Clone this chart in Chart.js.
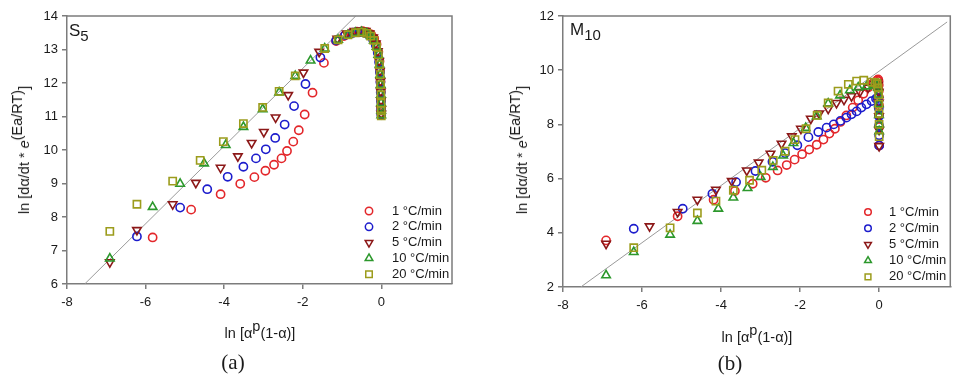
<!DOCTYPE html>
<html>
<head>
<meta charset="utf-8">
<script src="https://cdn.jsdelivr.net/npm/chart.js@4.4.0/dist/chart.umd.min.js"></script>
<style>
  body { margin: 0; background: #fff; font-family: "Liberation Sans", Arial, sans-serif; }
  #wrap { position: relative; width: 957px; height: 384px; overflow: hidden; }
  canvas { position: absolute; top: 0; }
  .lbl { position: absolute; white-space: nowrap; color: #1a1a1a; }
  .ytitle { font-size: 14.5px; transform: translate(-50%, -50%) rotate(-90deg); }
  .xtitle { font-size: 14.5px; transform: translate(-50%, -50%); }
  .sup { position: relative; top: -0.5em; }
  .cap { font-family: "Liberation Serif", "Times New Roman", serif; font-size: 21px; transform: translate(-50%, -50%); }
  .tag { font-size: 17px; }
  .tag sub { font-size: 15px; vertical-align: baseline; position: relative; top: 5px; }
</style>
</head>
<body>
<div id="wrap">
  <canvas id="chartA" width="475" height="384" style="left:0"></canvas>
  <canvas id="chartB" width="477" height="384" style="left:480px"></canvas>

  <div class="lbl ytitle" style="left:24px;top:150px">ln [dα/dt * <i>e</i><span class="sup">(Ea/RT)</span>]</div>
  <div class="lbl xtitle" style="left:260px;top:333px">ln [α<span class="sup">p</span>(1-α)]</div>
  <div class="lbl cap" style="left:233px;top:362px">(a)</div>
  <div class="lbl tag" style="left:69px;top:21px">S<sub>5</sub></div>

  <div class="lbl ytitle" style="left:522px;top:150px">ln [dα/dt * <i>e</i><span class="sup">(Ea/RT)</span>]</div>
  <div class="lbl xtitle" style="left:757px;top:337px">ln [α<span class="sup">p</span>(1-α)]</div>
  <div class="lbl cap" style="left:730px;top:363px">(b)</div>
  <div class="lbl tag" style="left:570px;top:20px">M<sub>10</sub></div>
</div>

<script>
// tick labels
const xTicks = [-8, -6, -4, -2, 0];
const yTicksA = [6, 7, 8, 9, 10, 11, 12, 13, 14];
const yTicksB = [2, 4, 6, 8, 10, 12];

const seriesNames = ['1 °C/min', '2 °C/min', '5 °C/min', '10 °C/min', '20 °C/min'];

// panel (a) S5
const a1x = [-5.82, -4.84, -4.09, -3.59, -3.23, -2.95, -2.73, -2.54, -2.40, -2.24, -2.10, -1.95, -1.75, -1.46, -1.15, -0.95, -0.78, -0.62, -0.48, -0.36, -0.26, -0.18, -0.12, -0.075, -0.045, -0.03, -0.02, -0.012, -0.007, -0.003, 0];
const a1y = [7.39, 8.22, 8.68, 8.99, 9.19, 9.38, 9.56, 9.75, 9.97, 10.25, 10.59, 11.06, 11.71, 12.60, 13.25, 13.40, 13.48, 13.53, 13.55, 13.52, 13.45, 13.33, 13.16, 12.93, 12.65, 12.35, 12.05, 11.75, 11.5, 11.25, 11.1];
const a2x = [-6.22, -5.12, -4.43, -3.91, -3.51, -3.19, -2.94, -2.70, -2.46, -2.22, -1.93, -1.55, -1.15, -0.92, -0.72, -0.55, -0.41, -0.30, -0.21, -0.14, -0.09, -0.055, -0.035, -0.022, -0.014, -0.008, -0.004, -0.001];
const a2y = [7.42, 8.28, 8.83, 9.20, 9.50, 9.75, 10.02, 10.36, 10.76, 11.31, 11.97, 12.76, 13.27, 13.43, 13.5, 13.52, 13.49, 13.42, 13.3, 13.13, 12.9, 12.62, 12.32, 12.02, 11.72, 11.45, 11.2, 11.05];
const a3x = [-6.91, -6.22, -5.31, -4.72, -4.09, -3.65, -3.30, -2.99, -2.69, -2.37, -1.98, -1.58, -1.12, -0.88, -0.68, -0.52, -0.40, -0.30, -0.21, -0.14, -0.09, -0.055, -0.035, -0.022, -0.013, -0.007, -0.003, 0];
const a3y = [6.65, 7.61, 8.38, 9.02, 9.47, 9.81, 10.21, 10.54, 10.97, 11.64, 12.31, 12.93, 13.32, 13.48, 13.55, 13.57, 13.55, 13.48, 13.36, 13.18, 12.95, 12.66, 12.36, 12.05, 11.75, 11.48, 11.22, 11.08];
const a4x = [-6.91, -5.82, -5.12, -4.51, -3.96, -3.51, -3.02, -2.60, -2.19, -1.80, -1.44, -1.10, -0.85, -0.66, -0.5, -0.37, -0.27, -0.19, -0.12, -0.075, -0.045, -0.028, -0.017, -0.01, -0.005, -0.002, 0];
const a4y = [6.76, 8.30, 8.99, 9.60, 10.15, 10.69, 11.22, 11.72, 12.21, 12.67, 13.03, 13.29, 13.43, 13.5, 13.52, 13.48, 13.4, 13.27, 13.08, 12.84, 12.55, 12.25, 11.95, 11.65, 11.4, 11.18, 11.04];
const a5x = [-6.91, -6.22, -5.31, -4.61, -4.02, -3.51, -3.02, -2.60, -2.19, -1.44, -1.10, -0.85, -0.66, -0.5, -0.37, -0.27, -0.19, -0.12, -0.075, -0.045, -0.028, -0.017, -0.01, -0.005, -0.002, 0];
const a5y = [7.57, 8.38, 9.07, 9.69, 10.25, 10.79, 11.27, 11.75, 12.21, 13.03, 13.29, 13.44, 13.5, 13.52, 13.48, 13.4, 13.27, 13.08, 12.84, 12.55, 12.25, 11.95, 11.65, 11.4, 11.18, 11.02];
const lineAx = [-7.55, -0.65];
const lineAy = [6, 14];

// panel (b) M10
const b1x = [-6.91, -5.10, -4.19, -3.65, -3.20, -2.87, -2.57, -2.34, -2.14, -1.95, -1.77, -1.58, -1.41, -1.26, -1.12, -0.98, -0.83, -0.67, -0.53, -0.40, -0.28, -0.15, -0.05, -0.025, -0.015, -0.01, -0.007, -0.005, -0.003, -0.002, -0.001, 0];
const b1y = [3.72, 4.61, 5.22, 5.54, 5.81, 6.03, 6.30, 6.50, 6.70, 6.90, 7.07, 7.25, 7.44, 7.66, 7.84, 8.09, 8.33, 8.62, 8.89, 9.13, 9.36, 9.53, 9.63, 9.66, 9.6, 9.45, 9.25, 9.0, 8.7, 8.35, 7.9, 7.22];
const b2x = [-6.21, -4.97, -4.22, -3.62, -3.13, -2.70, -2.38, -2.07, -1.79, -1.54, -1.33, -1.15, -0.98, -0.83, -0.70, -0.57, -0.45, -0.32, -0.19, -0.08, -0.04, -0.02, -0.01, -0.006, -0.003, -0.001, 0];
const b2y = [4.15, 4.89, 5.44, 5.87, 6.28, 6.62, 6.94, 7.23, 7.53, 7.72, 7.88, 8.00, 8.13, 8.25, 8.37, 8.48, 8.62, 8.74, 8.86, 8.95, 8.97, 8.85, 8.6, 8.3, 7.95, 7.6, 7.22];
const b3x = [-6.91, -5.81, -5.10, -4.60, -4.13, -3.73, -3.35, -3.05, -2.75, -2.47, -2.21, -1.98, -1.73, -1.52, -1.29, -1.08, -0.89, -0.70, -0.49, -0.28, -0.11, -0.05, -0.03, -0.015, -0.008, -0.004, -0.002, 0];
const b3y = [3.60, 4.24, 4.77, 5.22, 5.59, 5.91, 6.30, 6.59, 6.92, 7.29, 7.56, 7.84, 8.21, 8.40, 8.58, 8.79, 8.91, 9.04, 9.20, 9.36, 9.50, 9.55, 9.45, 9.2, 8.8, 8.3, 7.8, 7.2];
const b4x = [-6.91, -6.21, -5.29, -4.60, -4.07, -3.69, -3.33, -3.00, -2.69, -2.43, -2.17, -1.86, -1.58, -1.29, -0.99, -0.74, -0.53, -0.32, -0.15, -0.05, -0.03, -0.015, -0.008, -0.004, -0.002, 0];
const b4y = [2.43, 3.29, 3.93, 4.44, 4.89, 5.30, 5.65, 6.06, 6.43, 6.85, 7.31, 7.87, 8.30, 8.77, 9.07, 9.26, 9.36, 9.40, 9.44, 9.45, 9.35, 9.1, 8.75, 8.35, 8.0, 7.75];
const b5x = [-6.21, -5.29, -4.60, -4.13, -3.69, -3.28, -2.97, -2.68, -2.38, -2.13, -1.85, -1.57, -1.29, -1.04, -0.78, -0.57, -0.39, -0.19, -0.1, -0.05, -0.03, -0.015, -0.008, -0.004, -0.002, 0];
const b5y = [3.45, 4.18, 4.73, 5.17, 5.57, 5.94, 6.31, 6.67, 7.01, 7.44, 7.84, 8.33, 8.79, 9.23, 9.48, 9.60, 9.63, 9.56, 9.55, 9.5, 9.35, 9.1, 8.75, 8.4, 8.0, 7.55];
const lineBx = [-7.55, 1.72];
const lineBy = [2, 11.78];

// marker look per series
const styles = [
  { color: '#e3262a', pointStyle: 'circle', radius: 4.1, rotation: 0 },
  { color: '#1c1ccc', pointStyle: 'circle', radius: 4.1, rotation: 0 },
  { color: '#8c1818', pointStyle: 'triangle', radius: 4.9, rotation: 180 },
  { color: '#2c982c', pointStyle: 'triangle', radius: 4.9, rotation: 0 },
  { color: '#9c9c1c', pointStyle: 'rect', radius: 5.1, rotation: 0 },
];

const FONT = '"Liberation Sans", Arial, sans-serif';
const AXIS = '#7c7c7c';

const pts = (xs, ys) => xs.map((x, i) => ({ x: x, y: ys[i] }));

// box round the plot + legend inside the plot
const framePlugin = {
  id: 'frameLegend',
  afterDraw(chart, args, opts) {
    const ctx = chart.ctx;
    const a = chart.chartArea;
    ctx.save();
    ctx.strokeStyle = AXIS;
    ctx.lineWidth = 1.5;
    ctx.beginPath();
    ctx.moveTo(a.left, a.top);
    ctx.lineTo(a.right, a.top);
    ctx.lineTo(a.right, a.bottom);
    ctx.stroke();

    ctx.font = '13px ' + FONT;
    ctx.textBaseline = 'middle';
    seriesNames.forEach((name, i) => {
      const s = styles[i];
      const y = opts.y0 + i * opts.dy;
      ctx.strokeStyle = s.color;
      ctx.fillStyle = 'rgba(0,0,0,0)';
      ctx.lineWidth = 1.5;
      Chart.helpers.drawPoint(ctx, { pointStyle: s.pointStyle, radius: s.radius * opts.scale, rotation: s.rotation, borderWidth: 1.5 }, opts.mx, y);
      ctx.fillStyle = '#1a1a1a';
      ctx.fillText(name, opts.tx, y);
    });
    ctx.restore();
  }
};

function makeChart(id, series, line, yMin, yMax, yTicks, yWidth, xHeight, padRight, legend) {
  const datasets = series.map((d, i) => ({
    label: seriesNames[i],
    data: pts(d[0], d[1]),
    pointStyle: styles[i].pointStyle,
    pointRotation: styles[i].rotation,
    pointRadius: styles[i].radius,
    pointBorderColor: styles[i].color,
    pointBackgroundColor: 'rgba(0,0,0,0)',
    pointBorderWidth: 1.6,
    showLine: false,
    order: 5 - i,
  }));
  datasets.push({
    label: 'fit',
    data: pts(line[0], line[1]),
    showLine: true,
    borderColor: '#9a9a9a',
    borderWidth: 1,
    pointRadius: 0,
    order: 10,
  });

  const tickFont = { size: 13, family: FONT };
  return new Chart(document.getElementById(id), {
    type: 'scatter',
    data: { datasets: datasets },
    options: {
      responsive: false,
      animation: false,
      devicePixelRatio: 1,
      layout: { padding: { top: 16, right: padRight, left: 0, bottom: 0 } },
      plugins: {
        legend: { display: false },
        tooltip: { enabled: false },
        frameLegend: legend,
      },
      scales: {
        x: {
          type: 'linear',
          min: -8,
          max: 1.8,
          afterBuildTicks: (s) => { s.ticks = xTicks.map((v) => ({ value: v })); },
          afterFit: (s) => { s.height = xHeight; },
          grid: { drawOnChartArea: false, drawTicks: true, tickLength: 5, color: AXIS, lineWidth: 1.5 },
          border: { display: true, color: AXIS, width: 1.5 },
          ticks: { color: '#1a1a1a', font: tickFont, padding: 6, maxRotation: 0, autoSkip: false },
        },
        y: {
          type: 'linear',
          min: yMin,
          max: yMax,
          afterBuildTicks: (s) => { s.ticks = yTicks.map((v) => ({ value: v })); },
          afterFit: (s) => { s.width = yWidth; },
          grid: { drawOnChartArea: false, drawTicks: true, tickLength: 5, color: AXIS, lineWidth: 1.5 },
          border: { display: true, color: AXIS, width: 1.5 },
          ticks: { color: '#1a1a1a', font: tickFont, padding: 4, autoSkip: false },
        },
      },
    },
    plugins: [framePlugin],
  });
}

makeChart('chartA',
  [[a1x, a1y], [a2x, a2y], [a3x, a3y], [a4x, a4y], [a5x, a5y]],
  [lineAx, lineAy], 6, 14, yTicksA, 67, 100, 23,
  { mx: 369, tx: 392, y0: 211, dy: 15.8, scale: 0.9 });

makeChart('chartB',
  [[b1x, b1y], [b2x, b2y], [b3x, b3y], [b4x, b4y], [b5x, b5y]],
  [lineBx, lineBy], 2, 12, yTicksB, 83, 97, 6,
  { mx: 388, tx: 409, y0: 212, dy: 16.2, scale: 0.8 });
</script>
</body>
</html>
